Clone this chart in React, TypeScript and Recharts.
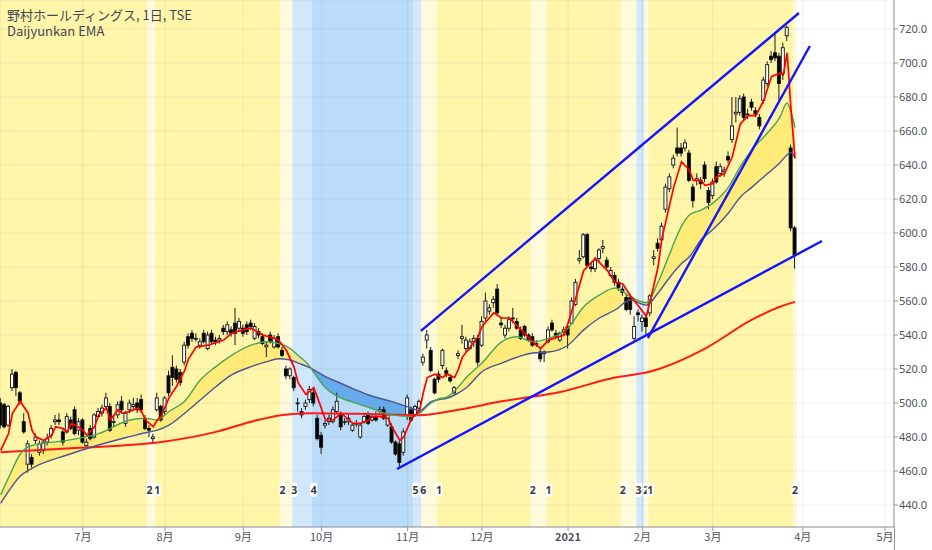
import {
  Area,
  Bar,
  CartesianGrid,
  ComposedChart,
  Line,
  ReferenceArea,
  ReferenceLine,
  Scatter,
  XAxis,
  YAxis,
} from 'recharts';

const title = '野村ホールディングス, 1日, TSE';
const indicatorName = 'Daijyunkan EMA';

// 日足 [始値, 高値, 安値, 終値] / バー番号 1〜204
const ohlc = [
  [500, 503, 485, 487], [499, 500, 485, 486], [487, 499, 486, 498], [509, 520, 507, 517], [518, 519, 504, 509],
  [506, 507, 499, 501], [489, 494, 482, 483], [464, 478, 459, 476], [468, 470, 462, 464], [478, 482, 476, 480],
  [471, 478, 469, 476], [472, 478, 470, 477], [477, 482, 475, 479], [481, 487, 479, 485], [489, 493, 487, 490],
  [490, 494, 487, 489], [483, 485, 475, 477], [483, 494, 482, 492], [490, 492, 484, 485], [496, 498, 481, 482],
  [484, 491, 481, 489], [490, 491, 476, 477], [475, 479, 473, 477], [485, 487, 478, 479], [480, 494, 479, 493],
  [492, 497, 491, 495], [494, 499, 492, 497], [498, 506, 496, 503], [498, 500, 483, 484], [489, 493, 486, 489],
  [493, 501, 491, 499], [501, 504, 494, 496], [488, 495, 486, 494], [496, 502, 494, 500], [498, 503, 496, 499],
  [500, 503, 494, 496], [502, 505, 494, 496], [491, 493, 484, 485], [485, 487, 480, 484], [479, 482, 476, 480],
  [496, 506, 495, 503], [498, 499, 489, 490], [495, 504, 493, 503], [516, 519, 504, 506], [521, 528, 510, 515],
  [520, 522, 512, 514], [518, 520, 510, 512], [524, 536, 522, 534], [539, 541, 532, 534], [541, 543, 536, 538],
  [538, 541, 536, 538], [534, 538, 532, 536], [541, 543, 535, 536], [532, 542, 531, 540], [541, 543, 535, 536],
  [537, 539, 534, 536], [537, 540, 535, 538], [544, 546, 540, 542], [542, 548, 540, 546], [543, 545, 539, 541],
  [547, 556, 534, 541], [544, 550, 542, 548], [544, 546, 539, 541], [546, 548, 540, 542], [547, 549, 543, 545],
  [538, 547, 537, 545], [542, 544, 538, 540], [539, 541, 534, 535], [533, 536, 527, 534], [540, 542, 535, 536],
  [533, 540, 532, 538], [539, 541, 532, 533], [531, 533, 527, 528], [520, 522, 514, 516], [516, 521, 514, 520],
  [515, 516, 507, 509], [500, 503, 495, 500], [495, 497, 491, 493], [498, 502, 496, 500], [502, 510, 500, 508],
  [506, 508, 498, 500], [491, 493, 478, 479], [481, 483, 470, 474], [487, 490, 485, 488], [489, 493, 487, 491],
  [489, 498, 488, 496], [495, 506, 494, 501], [493, 495, 484, 486], [489, 491, 487, 489], [489, 493, 487, 491],
  [484, 488, 483, 487], [488, 490, 486, 488], [480, 488, 479, 487], [489, 494, 488, 492], [493, 495, 487, 488],
  [490, 494, 489, 492], [492, 495, 489, 490], [495, 498, 493, 496], [496, 498, 490, 491], [487, 494, 486, 493],
  [486, 488, 476, 477], [477, 478, 469, 470], [476, 478, 462, 465], [471, 485, 469, 483], [492, 505, 490, 503],
  [496, 498, 489, 490], [493, 499, 492, 498], [497, 502, 496, 501], [524, 529, 522, 527], [537, 543, 532, 540],
  [531, 533, 518, 519], [514, 515, 505, 506], [517, 519, 512, 514], [522, 532, 520, 531], [519, 521, 515, 517],
  [515, 517, 512, 513], [506, 510, 505, 509], [528, 531, 526, 529], [538, 546, 535, 539], [532, 539, 530, 537],
  [532, 538, 531, 536], [536, 540, 533, 538], [538, 540, 522, 524], [534, 551, 533, 548], [550, 565, 548, 560],
  [554, 558, 552, 556], [559, 563, 556, 561], [567, 570, 552, 553], [547, 550, 544, 546], [540, 546, 538, 544],
  [544, 551, 542, 549], [550, 556, 547, 550], [548, 550, 543, 544], [543, 545, 537, 538], [545, 546, 539, 540],
  [540, 541, 536, 537], [539, 541, 533, 534], [535, 537, 533, 535], [530, 532, 524, 526], [529, 531, 524, 530],
  [536, 545, 535, 543], [547, 549, 542, 543], [541, 543, 538, 539], [537, 542, 536, 541], [542, 545, 540, 543],
  [545, 547, 532, 540], [547, 562, 546, 560], [558, 573, 557, 571], [584, 590, 582, 585], [586, 600, 585, 599],
  [599, 600, 580, 581], [580, 583, 577, 579], [579, 586, 577, 584], [585, 591, 583, 590], [591, 596, 588, 592],
  [584, 586, 579, 580], [575, 580, 574, 578], [575, 577, 569, 571], [571, 573, 566, 568], [567, 569, 563, 565],
  [562, 564, 554, 555], [562, 564, 552, 555], [538, 551, 536, 545], [553, 555, 548, 552], [548, 552, 542, 550],
  [550, 552, 540, 545], [553, 564, 551, 563], [585, 590, 581, 586], [594, 597, 589, 591], [596, 606, 594, 604],
  [614, 629, 612, 627], [626, 635, 624, 633], [640, 646, 638, 644], [650, 662, 645, 647], [650, 653, 645, 647],
  [650, 655, 648, 653], [647, 649, 630, 631], [627, 629, 615, 619], [631, 635, 628, 632], [631, 633, 626, 629],
  [640, 642, 630, 632], [625, 627, 614, 618], [622, 632, 620, 630], [639, 642, 629, 630], [635, 641, 633, 639],
  [636, 639, 633, 637], [645, 648, 641, 643], [655, 680, 653, 663], [670, 680, 665, 671], [671, 681, 669, 679],
  [680, 682, 666, 668], [670, 673, 667, 670], [677, 679, 672, 674], [672, 674, 668, 670], [668, 670, 661, 663],
  [678, 692, 676, 690], [688, 701, 686, 699], [704, 707, 700, 702], [706, 717, 701, 703], [704, 706, 678, 688],
  [694, 712, 690, 709], [716, 722, 713, 721], [650, 652, 601, 603], [603, 604, 579, 587],
];

const monthTicks = [22, 43, 63, 83, 105, 124, 146, 165, 183, 206, 227];
const monthLabels = ['7月', '8月', '9月', '10月', '11月', '12月', '2021', '2月', '3月', '4月', '5月'];
const priceTicks = [440, 460, 480, 500, 520, 540, 560, 580, 600, 620, 640, 660, 680, 700, 720];

// 短期EMA(赤)
const fastIdx = [
  1, 3, 4, 6, 8, 9, 10, 12, 14, 15, 17, 18, 19, 20, 22, 23, 25, 26, 28, 29, 31, 32, 34, 36, 37, 38, 40, 41, 42, 44,
  46, 48, 49, 51, 54, 58, 60, 63, 65, 68, 71, 72, 74, 76, 77, 79, 80, 81, 82, 84, 86, 88, 89, 91, 93, 95, 96, 98, 100,
  101, 103, 104, 106, 107, 108, 109, 110, 112, 114, 115, 117, 118, 119, 121, 123, 124, 127, 129, 131, 134, 137, 139,
  141, 145, 146, 148, 150, 153, 156, 158, 160, 162, 164, 166, 167, 169, 170, 173, 175, 177, 178, 180, 181, 183, 184,
  186, 188, 190, 192, 194, 196, 198, 200, 201, 202, 203, 204,
];
const fastVal = [
  472, 482, 494, 501, 494, 484, 480, 478, 481, 486, 485, 483, 488, 487, 484, 481, 486, 493, 497, 490, 496, 494, 495,
  497, 495, 490, 486, 490, 492, 503, 510, 519, 526, 533, 534, 537, 541, 543, 544, 540, 538, 537, 531, 521, 512, 505,
  507, 509, 503, 490, 490, 494, 492, 488, 488, 490, 492, 492, 491, 486, 478, 480, 491, 493, 495, 506, 515, 517, 515,
  517, 515, 520, 527, 533, 539, 545, 553, 550, 550, 543, 536, 532, 537, 540, 547, 562, 578, 585, 578, 571, 570, 563,
  557, 551, 560, 580, 597, 627, 642, 637, 631, 631, 628, 629, 633, 635, 645, 664, 669, 669, 678, 692, 694, 693, 706,
  672, 644,
];

// 中期EMA(緑)・長期EMA(紺)
const emaIdx = [
  1, 3, 6, 9, 18, 26, 34, 38, 41, 44, 48, 52, 56, 60, 65, 69, 72, 75, 77, 80, 81, 84, 87, 91, 95, 101, 106, 108, 111,
  113, 115, 118, 120, 124, 129, 133, 137, 141, 146, 150, 154, 158, 162, 166, 169, 172, 175, 177, 180, 183, 187, 190,
  193, 197, 200, 202, 203, 204,
];
const midVal = [
  446, 456, 470, 475, 478, 482, 490, 491, 490, 495, 501, 513.5, 521.4, 528, 534, 536, 535, 532, 528, 521.5, 518, 509,
  504, 500.5, 497.5, 493, 492, 494, 500, 502.5, 503.5, 509.6, 515, 523.5, 536, 539, 536, 538, 544, 556.6, 563.5, 567.6,
  562.5, 559, 571, 588, 604, 610.6, 613.5, 617.6, 627, 639, 649, 659, 667.6, 676.5, 671, 662,
];
const slowVal = [
  441, 448, 457, 461.6, 469.4, 475.3, 480.2, 482.5, 484, 487, 494, 501.8, 509.6, 516.5, 521.4, 524.3, 526, 525.3, 523.5,
  520.8, 519.5, 515.5, 512.5, 508.5, 504.7, 500.8, 497, 495.5, 500.8, 502, 502.8, 506, 509, 518.4, 523.5, 527, 529.4,
  530, 534, 543, 550, 554.7, 560.6, 557.6, 564.7, 574, 582, 586, 596, 602, 611.8, 621, 627, 635, 641, 646, 647.6, 644,
];

// 超長期EMA(太い赤)
const longIdx = [1, 20, 42, 56, 65, 73, 80, 95, 108, 118, 129, 144, 158, 167, 181, 193, 200, 204];
const longVal = [471, 473.5, 477, 483, 489, 493, 494, 493.5, 492.8, 496, 501, 506.5, 515, 518.5, 532, 549, 556.5, 559.5];

// ステージ (開始バー, ステージ番号)
const stageStart = [1, 39, 41, 73, 76, 81, 107, 109, 113, 137, 141, 160, 164, 166, 167, 204];
const stageNum = [1, 2, 1, 2, 3, 4, 5, 6, 1, 2, 1, 2, 3, 2, 1, 2];
const lastBar = 204;
const stageLabelPrice = 449;

// トレンドライン [バー, 価格]
const trendStart = [[108.4, 542.4], [102.3, 461.2], [166.4, 538.2]];
const trendEnd = [[205.0, 729.4], [210.9, 595.3], [207.8, 710]];

const stageColor = {
  1: '#fff6aa',
  2: '#fffadb',
  3: '#d1e7fc',
  4: '#bbdcf9',
  5: '#d1e7fc',
  6: '#fffadb',
};

const candleRows = ohlc.map(([o, h, l, c], k) => ({ i: k + 1, o, h, l, c, range: [l, h] }));
const fastRows = fastIdx.map((i, k) => ({ i, v: fastVal[k] }));
const midRows = emaIdx.map((i, k) => ({ i, v: midVal[k] }));
const slowRows = emaIdx.map((i, k) => ({ i, v: slowVal[k] }));
const longRows = longIdx.map((i, k) => ({ i, v: longVal[k] }));
const bandRows = emaIdx.map((i, k) => ({
  i,
  band: [Math.min(midVal[k], slowVal[k]), Math.max(midVal[k], slowVal[k])],
}));

const stageBands = stageStart.map((s, k) => ({
  from: s - 0.5,
  to: (k + 1 < stageStart.length ? stageStart[k + 1] : lastBar + 1) - 0.5,
  stage: stageNum[k],
}));
const stageLabels = stageStart.slice(1).map((s, k) => ({ i: s, y: stageLabelPrice, s: stageNum[k + 1] }));

// 緑と紺の交差位置からグラデーションの切替点を求める
const bandStops = () => {
  const first = emaIdx[0];
  const span = emaIdx[emaIdx.length - 1] - first;
  let up = midVal[0] >= slowVal[0];
  const stops = [{ off: 0, up }];
  for (let k = 1; k < emaIdx.length; k++) {
    const d0 = midVal[k - 1] - slowVal[k - 1];
    const d1 = midVal[k] - slowVal[k];
    if ((d0 >= 0) !== (d1 >= 0)) {
      const t = d0 / (d0 - d1);
      const off = (emaIdx[k - 1] + t * (emaIdx[k] - emaIdx[k - 1]) - first) / span;
      stops.push({ off, up });
      up = !up;
      stops.push({ off, up });
    }
  }
  stops.push({ off: 1, up });
  return stops;
};

const Candle = (props) => {
  const { x, y, width, height, payload } = props;
  if (!payload || x == null) return null;
  const { o, h, l, c } = payload;
  const top = Math.min(y, y + height);
  const bot = Math.max(y, y + height);
  const span = h - l || 1;
  const py = (v) => top + ((h - v) / span) * (bot - top);
  const cx = x + width / 2;
  const up = c >= o;
  const bTop = py(Math.max(o, c));
  const bBot = py(Math.min(o, c));
  return (
    <g>
      <line x1={cx} x2={cx} y1={py(h)} y2={py(l)} stroke="#1b1b1b" strokeWidth={1} />
      <rect
        x={cx - 1.5}
        y={bTop}
        width={3}
        height={Math.max(bBot - bTop, 0.8)}
        fill={up ? '#ffffff' : '#000000'}
        stroke="#111"
        strokeWidth={0.9}
      />
    </g>
  );
};

const StageLabel = (props) => {
  const { cx, cy, payload } = props;
  if (cx == null) return null;
  return (
    <g>
      <rect x={cx - 3.5} y={cy - 7} width={7} height={14} rx={2} fill="#ffffff" />
      <text
        x={cx}
        y={cy + 4}
        textAnchor="middle"
        fontSize={10.5}
        fontWeight="bold"
        fontFamily="'Noto Sans', sans-serif"
        fill="#3b3b3b"
      >
        {payload.s}
      </text>
    </g>
  );
};

const MonthTick = (props) => {
  const { x, y, payload } = props;
  const label = monthLabels[monthTicks.indexOf(payload.value)];
  return (
    <text
      x={x}
      y={y}
      dy="0.71em"
      textAnchor="middle"
      fontSize={11}
      fontFamily="'Noto Sans CJK JP', 'Noto Sans', sans-serif"
      fontWeight={label === '2021' ? 'bold' : 'normal'}
      fill="#50535e"
    >
      {label}
    </text>
  );
};

export default function App() {
  const stops = bandStops();
  return (
    <div style={{ position: 'relative', width: 932, height: 550, background: '#ffffff' }}>
      <style>{'body { margin: 0; }'}</style>
      <ComposedChart
        width={932}
        height={550}
        data={candleRows}
        margin={{ top: 0, right: 0, bottom: 0, left: 0 }}
      >
        <defs>
          <linearGradient id="bandFill" x1="0" y1="0" x2="1" y2="0">
            {stops.map((s, k) => (
              <stop
                key={k}
                offset={s.off}
                stopColor={s.up ? '#ffe45a' : '#3f93e4'}
                stopOpacity={s.up ? 0.62 : 0.68}
              />
            ))}
          </linearGradient>
        </defs>

        {stageBands.map((b, k) => (
          <ReferenceArea
            key={k}
            x1={b.from}
            x2={b.to}
            fill={stageColor[b.stage]}
            fillOpacity={1}
            stroke="none"
            ifOverflow="hidden"
            zIndex={50}
          />
        ))}

        <CartesianGrid stroke="rgba(110, 120, 150, 0.13)" zIndex={60} />

        <XAxis
          type="number"
          dataKey="i"
          domain={[0.82, 229.3]}
          allowDataOverflow
          ticks={monthTicks}
          interval={0}
          height={23}
          tickSize={4}
          tickMargin={2}
          stroke="#8f939c"
          tick={<MonthTick />}
        />
        <YAxis
          orientation="right"
          type="number"
          domain={[427.06, 737.06]}
          allowDataOverflow
          ticks={priceTicks}
          interval={0}
          width={38}
          tickSize={4}
          tickMargin={1}
          stroke="#8f939c"
          tickFormatter={(v) => v.toFixed(1)}
          tick={{ fontSize: 11, fill: '#50535e', fontFamily: "'Noto Sans', sans-serif" }}
        />

        <Area
          data={bandRows}
          dataKey="band"
          type="monotone"
          stroke="none"
          fill="url(#bandFill)"
          fillOpacity={1}
          isAnimationActive={false}
          dot={false}
          activeDot={false}
          zIndex={100}
        />

        <Bar
          dataKey="range"
          barSize={3}
          shape={<Candle />}
          isAnimationActive={false}
          zIndex={300}
        />

        <Line
          data={longRows}
          dataKey="v"
          type="monotone"
          stroke="#ff1a1a"
          strokeWidth={2}
          dot={false}
          activeDot={false}
          isAnimationActive={false}
          zIndex={400}
        />
        <Line
          data={slowRows}
          dataKey="v"
          type="monotone"
          stroke="#4a5593"
          strokeWidth={1.4}
          dot={false}
          activeDot={false}
          isAnimationActive={false}
          zIndex={400}
        />
        <Line
          data={midRows}
          dataKey="v"
          type="monotone"
          stroke="#45a553"
          strokeWidth={1.4}
          dot={false}
          activeDot={false}
          isAnimationActive={false}
          zIndex={400}
        />
        <Line
          data={fastRows}
          dataKey="v"
          type="linear"
          stroke="#ff0000"
          strokeWidth={1.7}
          dot={false}
          activeDot={false}
          isAnimationActive={false}
          zIndex={400}
        />

        {trendStart.map((a, k) => (
          <ReferenceLine
            key={k}
            segment={[
              { x: a[0], y: a[1] },
              { x: trendEnd[k][0], y: trendEnd[k][1] },
            ]}
            stroke="#1414ff"
            strokeWidth={2.4}
            ifOverflow="visible"
            zIndex={450}
          />
        ))}

        <Scatter
          data={stageLabels}
          dataKey="y"
          shape={<StageLabel />}
          isAnimationActive={false}
          zIndex={600}
        />
      </ComposedChart>

      {/* 価格軸の線は下端まで伸びる */}
      <div
        style={{
          position: 'absolute',
          left: 894,
          top: 527,
          width: 1,
          height: 23,
          background: '#8f939c',
        }}
      />

      <div
        style={{
          position: 'absolute',
          left: 7,
          top: 7,
          fontFamily: "'Noto Sans CJK JP', 'Noto Sans', sans-serif",
          fontSize: 13,
          lineHeight: '16px',
          color: '#434651',
          pointerEvents: 'none',
        }}
      >
        <div>{title}</div>
        <div>{indicatorName}</div>
      </div>
    </div>
  );
}
